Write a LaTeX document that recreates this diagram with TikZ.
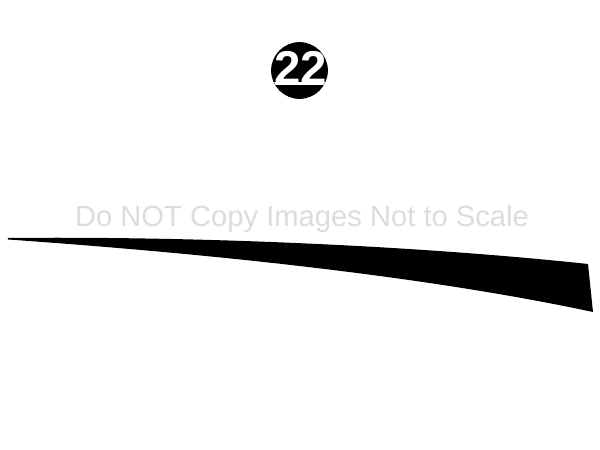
\documentclass[tikz,border=0pt]{standalone}
\usepackage{fontspec}
\setmainfont{Liberation Sans}
\usepackage{tikz}
\definecolor{markgray}{HTML}{DCDCDC}

\begin{document}
\begin{tikzpicture}[x=0.02cm, y=-0.02cm]
\useasboundingbox (0,0) rectangle (600,450);
\filldraw[color=black, fill=black](299.5,70.5) circle (28);
\begin{scope}
\clip (299.5,70.5) circle (28);
\fill[white] (260,82) rectangle (340,85);
\end{scope}
\node[anchor=center, white, font=\bfseries\fontsize{27}{27}\selectfont, inner sep=0pt] (num) at (300.8,67.5) {22};
\node[anchor=base, markgray, font=\fontsize{16.6}{16.6}\selectfont, inner sep=0pt] (warn) at (302,226) {Do NOT Copy Images Not to Scale};
\fill[black] (8,238) .. controls (200,236) and (420,246) .. (588,264) -- (593,312) .. controls (420,275) and (200,253) .. (8,239.5) -- cycle;
\end{tikzpicture}
\end{document}
